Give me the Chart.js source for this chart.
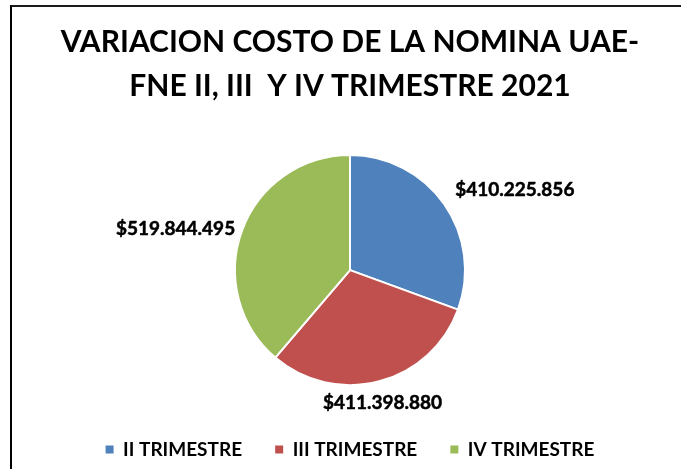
<!DOCTYPE html>
<html>
<head>
<meta charset="utf-8">
<script src="https://cdn.jsdelivr.net/npm/chart.js@4.4.1/dist/chart.umd.min.js"></script>
<style>
  html,body{margin:0;padding:0;background:#fff;}
  #wrap{position:relative;width:681px;height:469px;overflow:hidden;}
  #frame{position:absolute;left:10px;top:5px;right:-5px;bottom:-5px;border-left:2px solid #000;border-top:2px solid #1a1a1a;pointer-events:none;}
  canvas{position:absolute;left:0;top:0;}
</style>
</head>
<body>
<div id="wrap">
  <canvas id="c" width="681" height="469"></canvas>
  <div id="frame"></div>
</div>
<script>
const categories = ['II TRIMESTRE', 'III TRIMESTRE', 'IV TRIMESTRE'];
const values = [410225856, 411398880, 519844495];
const colors = ['#4F81BD', '#C0504D', '#9BBB59'];
const titleLines = ['VARIACION COSTO DE LA NOMINA UAE-', 'FNE II, III  Y IV TRIMESTRE 2021'];

function fmt(v){ return '$' + String(v).replace(/\B(?=(\d{3})+(?!\d))/g, '.'); }

const labelPlugin = {
  id: 'outLabels',
  afterDatasetsDraw(chart, args, opts){
    const ctx = chart.ctx;
    const meta = chart.getDatasetMeta(0);
    ctx.save();
    ctx.font = opts.font;
    ctx.fillStyle = '#000';
    ctx.strokeStyle = '#000';
    ctx.lineWidth = opts.stroke;
    ctx.lineJoin = 'round';
    ctx.textBaseline = 'middle';
    meta.data.forEach((arc, i) => {
      const p = arc.getProps(['x','y','startAngle','endAngle','outerRadius'], true);
      const mid = (p.startAngle + p.endAngle) / 2;
      const cx = Math.cos(mid), cy = Math.sin(mid);
      const d = p.outerRadius + opts.gap;
      const nudge = opts.nudge[i] || [0,0];
      const x = p.x + cx * d + nudge[0];
      const y = p.y + cy * d + nudge[1];
      ctx.textAlign = cx > 0.4 ? 'left' : (cx < -0.4 ? 'right' : 'center');
      const t = fmt(chart.data.datasets[0].data[i]);
      ctx.fillText(t, x, y);
      if (opts.stroke > 0) ctx.strokeText(t, x, y);
    });
    ctx.restore();
  }
};

const NBSP = '\u00A0';

new Chart(document.getElementById('c'), {
  type: 'pie',
  data: {
    labels: categories,
    datasets: [{
      data: values,
      backgroundColor: colors,
      borderColor: '#ffffff',
      borderWidth: 2,
      radius: 115
    }]
  },
  options: {
    responsive: false,
    animation: false,
    layout: { padding: { left: 29, right: 10, top: 0, bottom: 0 } },
    plugins: {
      title: {
        display: true,
        text: titleLines,
        color: '#000',
        font: { family: 'Lato', weight: 'bold', size: 30, lineHeight: 1.47 },
        padding: { top: 20, bottom: 2 }
      },
      legend: {
        position: 'bottom',
        labels: {
          color: '#000',
          font: { family: 'Lato', weight: 'bold', size: 19 },
          boxWidth: 8,
          boxHeight: 8,
          padding: 10,
          generateLabels(chart) {
            const items = Chart.overrides.pie.plugins.legend.labels.generateLabels(chart);
            items.forEach((it, i) => {
              if (i < items.length - 1) it.text = it.text + NBSP.repeat(5);
              it.strokeStyle = it.fillStyle;
              it.lineWidth = 0;
            });
            return items;
          }
        }
      },
      tooltip: { enabled: false },
      outLabels: {
        font: 'bold 19px Lato',
        stroke: 0.5,
        gap: 17,
        nudge: [[-3,-5],[-1,5],[9,4]]
      }
    }
  },
  plugins: [labelPlugin]
});
</script>
</body>
</html>
